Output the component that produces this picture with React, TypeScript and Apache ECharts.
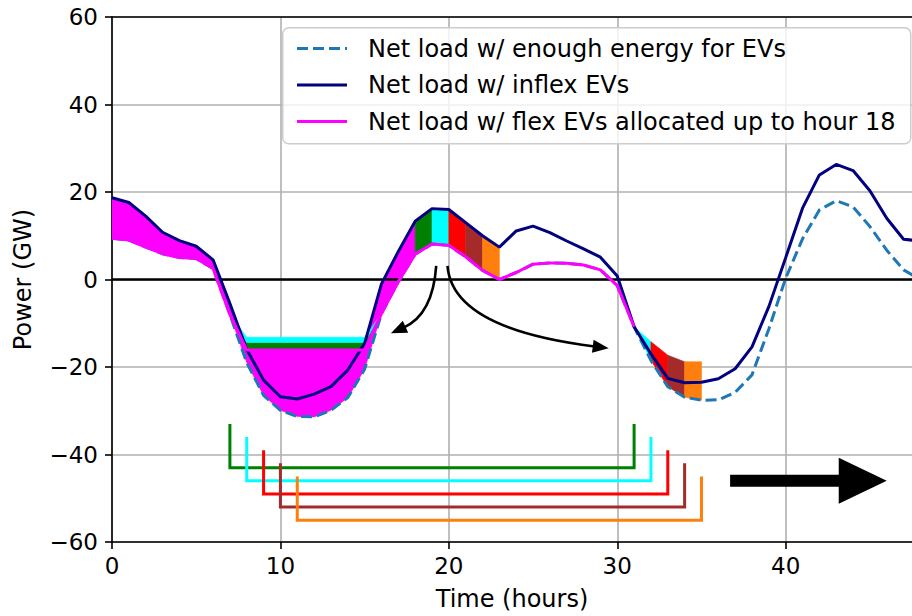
import React, { useEffect, useRef } from "react";
import * as echarts from "echarts";

// ---------------- data ----------------
const hours = [0, 1, 2, 3, 4, 5, 6, 7, 8, 9, 10, 11, 12, 13, 14, 15, 16, 17, 18, 19, 20, 21, 22, 23, 24,
  25, 26, 27, 28, 29, 30, 31, 32, 33, 34, 35, 36, 37, 38, 39, 40, 41, 42, 43, 44, 45, 46, 47, 48];

// Net load w/ enough energy for EVs (dashed)
const enoughEnergy = [9.4, 9.0, 7.4, 5.9, 5.0, 4.8, 2.5, -8.0, -19.0, -26.5, -29.9, -31.3, -31.4, -29.9,
  -27.0, -20.5, -7.8, -0.5, 5.8, 8.1, 7.8, 5.2, 2.1, 0.0, 1.6, 3.5, 3.8, 3.7, 3.3, 2.2, -1.4, -10.8,
  -18.5, -24.5, -26.9, -27.6, -27.5, -25.8, -21.8, -11.3, 0.3, 9.3, 15.9, 18.0, 16.6, 12.1, 6.7, 2.2, 0.0];

// Net load w/ inflex EVs (navy)
const inflexLoad = [18.7, 17.6, 14.5, 10.8, 8.9, 7.6, 4.5, -5.5, -16.0, -23.0, -26.8, -27.3, -26.2, -24.5,
  -20.7, -14.6, -1.0, 6.4, 13.3, 16.2, 16.0, 13.0, 10.0, 7.4, 11.1, 12.2, 10.7, 8.8, 7.0, 5.1, 0.8, -10.8,
  -17.0, -22.6, -23.6, -23.5, -22.7, -20.4, -15.4, -6.2, 5.0, 16.3, 23.9, 26.3, 24.9, 20.3, 14.0, 9.2, 8.8];

// Net load w/ flex EVs allocated up to hour 18 (magenta), hours 0..31
const flexLoad = [9.4, 9.0, 7.4, 5.9, 5.0, 4.8, 2.5, -8.0, -16.1, -16.1, -16.1, -16.1, -16.1, -16.1, -16.1,
  -16.1, -7.8, -0.5, 5.8, 8.1, 7.8, 5.2, 2.1, 0.0, 1.6, 3.5, 3.8, 3.7, 3.3, 2.2, -1.4, -10.8];

// First valley: energy of the hour-18 (green) and hour-19 (cyan) EVs stacked on the flex load
const valley1Hours = [7, 8, 9, 10, 11, 12, 13, 14, 15, 16];
const greenTop = [-8.0, -14.4, -14.4, -14.4, -14.4, -14.4, -14.4, -14.4, -14.4, -7.8];
const cyanTop = [-8.0, -13.2, -13.2, -13.2, -13.2, -13.2, -13.2, -13.2, -13.2, -7.8];

// Peak blocks (inflex charging moved away), one per hour from 18 to 23
const blockStartHours = [18, 19, 20, 21, 22];
const groupColors = ["#008000", "#00ffff", "#ff0000", "#a52a2a", "#ff7f0e"];

// Second valley: load after moving the later EVs
const valley2Hours = [31, 32, 33, 34, 35];
const valley2Top = [-10.8, -14.2, -17.3, -18.8, -18.8];
const valley2Colors = ["#00ffff", "#ff0000", "#a52a2a", "#ff7f0e"];

// Charging windows (brackets)
const windowStart = [7, 8, 9, 10, 11];
const windowEnd = [31, 32, 33, 34, 35];
const bracketTop = [-33, -36, -39, -42, -45];
const bracketBottom = [-43, -46, -49, -52, -55];

// Annotation arrows (data coordinates)
const curvedArrows = [
  { start: [19.25, 3.1], ctrl: [19.05, -8.0], end: [16.56, -12.3] },
  { start: [19.92, 3.1], ctrl: [20.21, -11.3], end: [29.49, -15.7] },
];
const bigArrow = { tail: [36.7, -46.0], tip: [46.0, -46.0], shaftHalf: 1.37, headHalf: 5.25, headLen: 2.85 };

const xTicks = [0, 10, 20, 30, 40];

const NAME_ENOUGH = "Net load w/ enough energy for EVs";
const NAME_INFLEX = "Net load w/ inflex EVs";
const NAME_FLEX = "Net load w/ flex EVs allocated up to hour 18";
const legendNames = [NAME_ENOUGH, NAME_INFLEX, NAME_FLEX];

// ---------------- helpers ----------------
const FONT = "DejaVu Sans";
const valAt = (arr: number[], h: number) => arr[hours.indexOf(h)];

type Poly = { pts: number[][]; color: string };
function band(xs: number[], top: number[], bottom: number[], color: string): Poly {
  const pts: number[][] = [];
  xs.forEach((x, i) => pts.push([x, top[i]]));
  for (let i = xs.length - 1; i >= 0; i--) pts.push([xs[i], bottom[i]]);
  return { pts, color };
}

const polys: Poly[] = [];
{
  const xs = hours.filter((h) => h <= 18);
  polys.push(band(xs, xs.map((h) => valAt(inflexLoad, h)), xs.map((h) => flexLoad[h]), "#ff00ff"));
}
{
  const xs = valley1Hours;
  polys.push(band(xs, xs.map((h) => flexLoad[h]), xs.map((h) => valAt(enoughEnergy, h)), "#ff00ff"));
}
polys.push(band(valley1Hours, greenTop, valley1Hours.map((h) => flexLoad[h]), "#008000"));
polys.push(band(valley1Hours, cyanTop, greenTop, "#00ffff"));
blockStartHours.forEach((h, i) => {
  const xs = [h, h + 1];
  polys.push(band(xs, xs.map((x) => valAt(inflexLoad, x)), xs.map((x) => flexLoad[x]), groupColors[i]));
});
valley2Colors.forEach((c, i) => {
  const xs = [valley2Hours[i], valley2Hours[i + 1]];
  polys.push(band(xs, [valley2Top[i], valley2Top[i + 1]], xs.map((x) => valAt(enoughEnergy, x)), c));
});

const pair = (xs: number[], ys: number[]) => ys.map((y, i) => [xs[i], y]);

const seriesStyles = [
  { color: "#1f77b4", dash: [11, 5] as number[] | null },
  { color: "#000080", dash: null },
  { color: "#ff00ff", dash: null },
];

function legendGraphic(): any[] {
  const els: any[] = [
    {
      type: "rect",
      left: 282,
      top: 27,
      z: 100,
      shape: { width: 628, height: 116, r: 6 },
      style: { fill: "rgba(255,255,255,0.8)", stroke: "#cccccc", lineWidth: 1.5 },
    },
  ];
  const rowY = [48.5, 85, 121.5];
  legendNames.forEach((name, i) => {
    const st = seriesStyles[i];
    els.push({
      type: "line",
      z: 101,
      shape: { x1: 297, y1: rowY[i], x2: 347, y2: rowY[i] },
      style: { stroke: st.color, lineWidth: 3, lineDash: st.dash || undefined },
    });
    els.push({
      type: "text",
      z: 101,
      x: 368,
      y: rowY[i],
      style: {
        text: name,
        fill: "#000",
        font: `24px '${FONT}'`,
        verticalAlign: "middle",
        align: "left",
      },
    });
  });
  return els;
}

function buildOption(): any {
  const series: any[] = [];
  series.push({
    type: "custom",
    name: "fills",
    z: 2,
    silent: true,
    clip: true,
    data: polys.map((p) => p.pts[0]),
    renderItem: (params: any, api: any) => {
      const p = polys[params.dataIndex];
      return {
        type: "polygon",
        shape: { points: p.pts.map((pt) => api.coord(pt)) },
        style: { fill: p.color, stroke: p.color, lineWidth: 0.6 },
      };
    },
  });
  series.push({
    type: "line",
    name: "zero",
    z: 3,
    silent: true,
    symbol: "none",
    data: [[0, 0], [48, 0]],
    lineStyle: { color: "#000", width: 2.6 },
  });
  series.push({
    type: "line",
    name: NAME_ENOUGH,
    z: 4,
    symbol: "none",
    data: pair(hours, enoughEnergy),
    lineStyle: { color: seriesStyles[0].color, width: 3, type: seriesStyles[0].dash },
  });
  series.push({
    type: "line",
    name: NAME_INFLEX,
    z: 5,
    symbol: "none",
    data: pair(hours, inflexLoad),
    lineStyle: { color: seriesStyles[1].color, width: 3 },
  });
  series.push({
    type: "line",
    name: NAME_FLEX,
    z: 6,
    symbol: "none",
    data: pair(hours.slice(0, flexLoad.length), flexLoad),
    lineStyle: { color: seriesStyles[2].color, width: 3 },
  });
  windowStart.forEach((s, i) => {
    series.push({
      type: "line",
      name: "window" + i,
      z: 7 + i * 0.01,
      silent: true,
      symbol: "none",
      data: [
        [s, bracketTop[i]],
        [s, bracketBottom[i]],
        [windowEnd[i], bracketBottom[i]],
        [windowEnd[i], bracketTop[i]],
      ],
      lineStyle: { color: groupColors[i], width: 3, join: "miter" },
    });
  });
  series.push({
    type: "custom",
    name: "arrows",
    z: 8,
    silent: true,
    clip: false,
    data: curvedArrows.map((a) => a.start),
    renderItem: (params: any, api: any) => {
      const a = curvedArrows[params.dataIndex];
      const s = api.coord(a.start);
      const c = api.coord(a.ctrl);
      const e = api.coord(a.end);
      const dx = e[0] - c[0];
      const dy = e[1] - c[1];
      const len = Math.hypot(dx, dy);
      const ux = dx / len;
      const uy = dy / len;
      const hl = 16;
      const hw = 6.5;
      const bx = e[0] - ux * hl;
      const by = e[1] - uy * hl;
      return {
        type: "group",
        children: [
          {
            type: "bezierCurve",
            shape: { x1: s[0], y1: s[1], x2: bx + ux * 2, y2: by + uy * 2, cpx1: c[0], cpy1: c[1] },
            style: { stroke: "#000", lineWidth: 2.6, fill: null },
          },
          {
            type: "polygon",
            shape: {
              points: [
                [e[0], e[1]],
                [bx - uy * hw, by + ux * hw],
                [bx + uy * hw, by - ux * hw],
              ],
            },
            style: { fill: "#000" },
          },
        ],
      };
    },
  });
  series.push({
    type: "custom",
    name: "bigArrow",
    z: 8,
    silent: true,
    clip: false,
    data: [bigArrow.tail],
    renderItem: (_params: any, api: any) => {
      const { tail, tip, shaftHalf, headHalf, headLen } = bigArrow;
      const y = tail[1];
      const hb = tip[0] - headLen;
      const pts = [
        [tail[0], y + shaftHalf],
        [hb, y + shaftHalf],
        [hb, y + headHalf],
        [tip[0], y],
        [hb, y - headHalf],
        [hb, y - shaftHalf],
        [tail[0], y - shaftHalf],
      ].map((p) => api.coord(p));
      return { type: "polygon", shape: { points: pts }, style: { fill: "#000" } };
    },
  });

  const tickStyle = { fontFamily: FONT, fontSize: 23, color: "#000" };
  const titleStyle = { fontFamily: FONT, fontSize: 24, color: "#000" };

  return {
    animation: false,
    backgroundColor: "#fff",
    textStyle: { fontFamily: FONT },
    grid: { left: 112, right: 0, top: 17, bottom: 74, containLabel: false },
    graphic: legendGraphic(),
    xAxis: [
      {
        type: "value",
        min: 0,
        max: 47.5,
        interval: 10,
        name: "Time (hours)",
        nameLocation: "middle",
        nameGap: 45,
        nameTextStyle: titleStyle,
        axisLine: { show: true, onZero: false, lineStyle: { color: "#000", width: 1.6 } },
        axisTick: { show: true, length: 7, lineStyle: { color: "#000", width: 1.6 }, customValues: xTicks },
        axisLabel: { ...tickStyle, margin: 12, customValues: xTicks },
        splitLine: { show: true, lineStyle: { color: "#b0b0b0", width: 1.6 } },
      },
      {
        type: "value",
        position: "top",
        min: 0,
        max: 47.5,
        axisLine: { show: true, onZero: false, lineStyle: { color: "#000", width: 1.6 } },
        axisTick: { show: false },
        axisLabel: { show: false },
        splitLine: { show: false },
      },
    ],
    yAxis: {
      type: "value",
      min: -60,
      max: 60,
      interval: 20,
      name: "Power (GW)",
      nameLocation: "middle",
      nameGap: 77,
      nameRotate: 90,
      nameTextStyle: titleStyle,
      axisLine: { show: true, onZero: false, lineStyle: { color: "#000", width: 1.6 } },
      axisTick: { show: true, length: 7, lineStyle: { color: "#000", width: 1.6 } },
      axisLabel: {
        ...tickStyle,
        margin: 14,
        formatter: (v: number) => (v < 0 ? "\u2212" + Math.abs(v) : String(v)),
      },
      splitLine: { show: true, lineStyle: { color: "#b0b0b0", width: 1.6 } },
    },
    series,
  };
}

export default function App() {
  const ref = useRef<HTMLDivElement>(null);
  useEffect(() => {
    if (!ref.current) return;
    const chart = echarts.init(ref.current, null, { renderer: "svg" });
    chart.setOption(buildOption());
    return () => chart.dispose();
  }, []);
  return (
    <div
      ref={ref}
      style={{ position: "fixed", left: 0, top: 0, width: 912, height: 616, background: "#fff" }}
    />
  );
}
